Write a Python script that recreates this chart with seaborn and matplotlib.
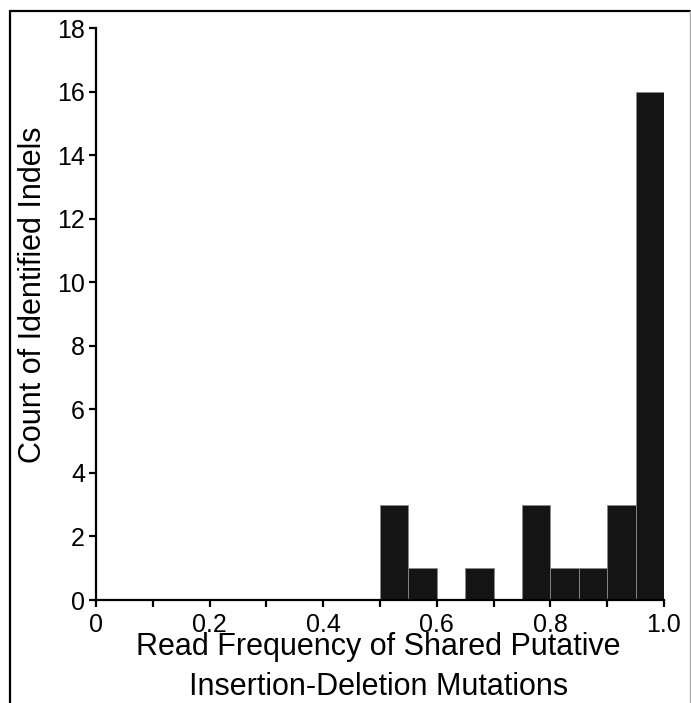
import matplotlib
matplotlib.use("Agg")
import matplotlib.pyplot as plt
import seaborn as sns
import numpy as np
import pandas as pd
from matplotlib.lines import Line2D
from matplotlib.ticker import MultipleLocator

# Data: histogram bins (left edges) and counts
bin_left = [0.50, 0.55, 0.60, 0.65, 0.70, 0.75, 0.80, 0.85, 0.90, 0.95]
counts = [3, 1, 0, 1, 0, 3, 1, 1, 3, 16]
bin_width = 0.05
x_ticks = [0, 0.2, 0.4, 0.6, 0.8, 1.0]
x_tick_labels = ["0", "0.2", "0.4", "0.6", "0.8", "1.0"]
y_ticks = [0, 2, 4, 6, 8, 10, 12, 14, 16, 18]

sns.set_style("ticks")
plt.rcParams['font.family'] = ['Liberation Sans', 'DejaVu Sans']
plt.rcParams['text.color'] = 'black'
plt.rcParams['axes.labelcolor'] = 'black'
plt.rcParams['xtick.color'] = 'black'
plt.rcParams['ytick.color'] = 'black'

fig = plt.figure(figsize=(6.91, 7.03), dpi=100)
ax = fig.add_axes([96/691, 1-600/703, (664-96)/691, (600-28)/703])

df = pd.DataFrame({"freq": [b + bin_width/2 for b in bin_left],
                   "count": [float(c) for c in counts]})
edges = [round(i * bin_width, 2) for i in range(21)]
sns.histplot(data=df, x="freq", weights="count", bins=edges, ax=ax,
             color="#141414", alpha=1, edgecolor="#8a8a8a", linewidth=0.6)

ax.set_xlim(0, 1.0)
ax.set_ylim(0, 18)
ax.set_xticks(x_ticks)
ax.set_xticklabels(x_tick_labels)
ax.xaxis.set_minor_locator(MultipleLocator(0.1))
ax.set_yticks(y_ticks)
for s in ["top", "right"]:
    ax.spines[s].set_visible(False)
for s in ["left", "bottom"]:
    ax.spines[s].set_linewidth(1.6)
    ax.spines[s].set_color("black")
ax.tick_params(axis="both", which="both", direction="out", length=5, width=1.6,
               labelsize=18, color="black", labelcolor="black")
ax.tick_params(axis="x", which="both", pad=4)
ax.tick_params(axis="y", which="both", pad=3)

ax.set_ylabel("Count of Identified Indels", fontsize=22)
ax.yaxis.label.set_va("center")
ax.yaxis.set_label_coords(-0.111, 0.533)

ax.set_xlabel("Read Frequency of Shared Putative\nInsertion-Deletion Mutations",
              fontsize=22, linespacing=1.42)
ax.xaxis.label.set_va("top")
ax.xaxis.set_label_coords(0.497, -0.056)

# Outer frame
fig.add_artist(Line2D([10/691, 10/691], [0, 1-11/703], color="black", lw=1.6,
                      transform=fig.transFigure))
fig.add_artist(Line2D([10/691, 690/691], [1-11/703, 1-11/703], color="black", lw=1.6,
                      transform=fig.transFigure))
fig.add_artist(Line2D([689.5/691, 689.5/691], [0, 1-11/703], color="#aaaaaa", lw=1,
                      transform=fig.transFigure))

fig.savefig("out.png", dpi=100)
